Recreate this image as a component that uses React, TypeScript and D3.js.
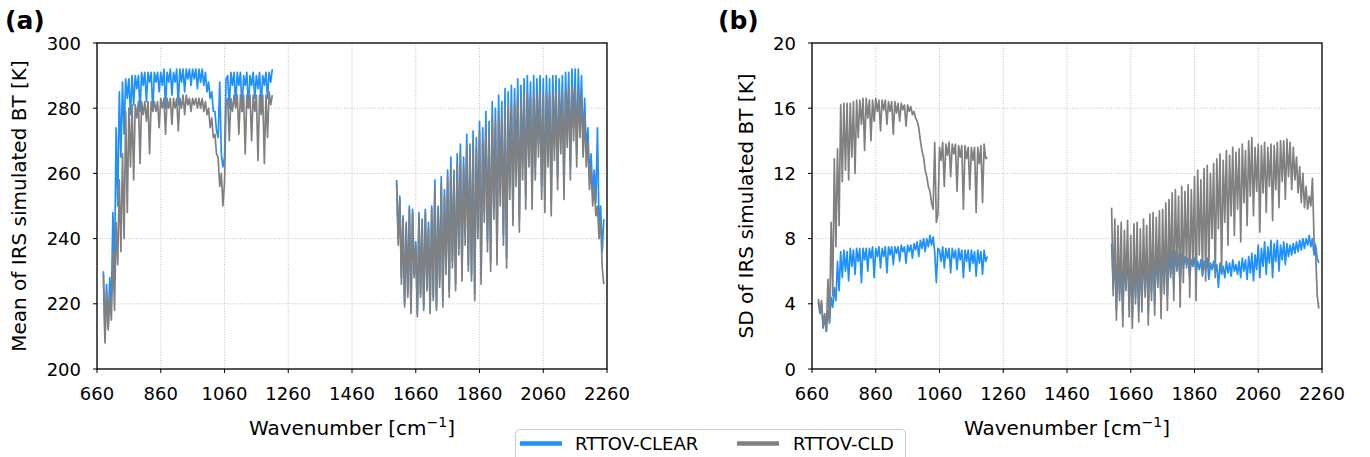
import React from 'react';
import * as d3 from 'd3';

// Channel grid (cm-1): long-wave band 680..1210, mid-wave band 1600..2250, every 5 cm-1
const LW_START = 680;
const MW_START = 1600;
const STEP = 5;

const xTicks = [660, 860, 1060, 1260, 1460, 1660, 1860, 2060, 2260];
const yTicksA = [200, 220, 240, 260, 280, 300];
const yTicksB = [0, 4, 8, 12, 16, 20];

// (a) Mean BT [K]
const aClearLW = [
  230, 210, 226, 213, 228, 220, 248, 230, 274, 250,
  285, 265, 288, 272, 289, 283, 289, 278, 290, 281,
  290, 286, 290, 279, 291, 287, 291, 282, 291, 288,
  291, 279, 291, 288, 291, 285, 291, 287, 292, 280,
  291, 288, 292, 284, 291, 288, 292, 281, 292, 288,
  292, 285, 292, 289, 292, 287, 292, 289, 292, 286,
  292, 288, 292, 287, 291, 285, 288, 283, 285, 279,
  279, 273, 271, 288, 266, 262, 265, 289, 290, 280,
  291, 287, 291, 281, 291, 287, 291, 279, 290, 287,
  291, 280, 290, 287, 291, 283, 290, 286, 291, 281,
  290, 287, 291, 283, 291, 288, 292,
];
const aCloudLW = [
  229, 208, 224, 212, 222, 215, 236, 218, 245, 232,
  258, 236, 266, 240, 279, 248, 280, 262, 281, 258,
  281, 277, 282, 263, 282, 278, 282, 276, 282, 266,
  282, 279, 282, 279, 282, 274, 283, 280, 283, 272,
  283, 280, 283, 275, 283, 280, 283, 273, 283, 280,
  284, 278, 284, 281, 283, 279, 283, 281, 283, 280,
  283, 280, 283, 279, 282, 278, 280, 274, 277, 271,
  272, 266, 265, 256, 260, 250, 257, 282, 283, 270,
  283, 279, 284, 280, 284, 272, 284, 279, 284, 266,
  284, 280, 284, 270, 284, 279, 284, 264, 284, 278,
  284, 263, 284, 271, 285, 281, 284,
];
const aClearMW = [
  258, 240, 253, 228, 247, 220, 245, 223, 250, 218,
  249, 229, 239, 217, 248, 223, 246, 219, 249, 225,
  245, 218, 250, 222, 258, 219, 250, 227, 259, 221,
  255, 231, 261, 224, 265, 233, 261, 226, 266, 237,
  269, 229, 265, 241, 272, 232, 269, 229, 273, 223,
  271, 243, 276, 228, 274, 248, 279, 239, 276, 233,
  282, 249, 280, 235, 284, 254, 282, 241, 286, 234,
  285, 256, 287, 248, 286, 260, 289, 246, 287, 262,
  289, 253, 290, 266, 288, 253, 290, 262, 289, 269,
  290, 256, 289, 252, 290, 266, 289, 251, 290, 268,
  290, 259, 289, 270, 290, 256, 291, 272, 291, 262,
  292, 274, 292, 266, 292, 275, 290, 269, 283, 266,
  274, 259, 266, 254, 261, 251, 274, 244, 250, 236,
  246,
];
const aCloudMW = [
  257, 238, 252, 226, 246, 219, 244, 222, 249, 217,
  248, 228, 238, 216, 247, 222, 245, 218, 248, 224,
  243, 217, 249, 221, 256, 218, 248, 225, 257, 219,
  253, 229, 259, 222, 262, 231, 258, 224, 263, 235,
  266, 227, 262, 238, 269, 230, 266, 227, 270, 221,
  268, 240, 273, 226, 270, 245, 275, 236, 272, 230,
  278, 246, 276, 232, 279, 250, 277, 238, 281, 231,
  280, 252, 282, 244, 281, 256, 284, 242, 282, 258,
  284, 249, 285, 262, 283, 249, 285, 258, 284, 265,
  285, 252, 284, 248, 285, 262, 284, 247, 285, 264,
  285, 255, 284, 266, 285, 252, 286, 268, 286, 258,
  287, 270, 286, 262, 286, 271, 284, 265, 278, 262,
  270, 255, 262, 250, 256, 247, 250, 240, 246, 231,
  226,
];

// (b) SD BT [K]
const bClearLW = [
  4.1, 3.4, 4.0, 2.5, 3.2, 2.3, 3.6, 2.9, 4.4, 3.8,
  5.0, 4.2, 6.6, 4.8, 7.2, 5.6, 7.3, 6.0, 7.2, 5.4,
  7.4, 6.3, 7.3, 5.8, 7.4, 6.6, 7.4, 5.3, 7.4, 6.7,
  7.4, 6.0, 7.4, 6.8, 7.5, 5.6, 7.4, 6.9, 7.5, 6.2,
  7.4, 6.9, 7.5, 5.9, 7.5, 7.0, 7.5, 6.4, 7.5, 7.1,
  7.5, 6.6, 7.6, 7.2, 7.5, 6.5, 7.6, 7.2, 7.6, 6.8,
  7.7, 7.3, 7.8, 6.9, 7.9, 7.4, 8.0, 7.2, 8.0, 7.5,
  8.2, 7.6, 8.1, 7.2, 5.3, 7.4, 7.3, 6.6, 7.5, 6.2,
  7.4, 6.8, 7.4, 5.9, 7.4, 6.8, 7.3, 6.1, 7.4, 6.7,
  7.3, 5.6, 7.3, 6.6, 7.3, 6.0, 7.3, 6.5, 7.2, 5.7,
  7.3, 6.5, 7.2, 5.8, 7.3, 6.6, 6.9,
];
const bCloudLW = [
  4.3, 3.5, 4.2, 2.6, 3.4, 2.3, 5.5, 2.8, 9.0, 4.5,
  12.9, 7.5, 13.5, 8.8, 16.2, 11.5, 16.3, 12.2, 16.3, 11.6,
  16.3, 13.0, 16.4, 12.0, 16.5, 14.2, 16.5, 15.0, 16.6, 13.4,
  16.6, 15.4, 16.5, 14.0, 16.5, 15.2, 16.6, 15.8, 16.5, 14.6,
  16.5, 15.9, 16.5, 15.0, 16.4, 15.8, 16.4, 14.4, 16.4, 15.7,
  16.3, 15.2, 16.3, 15.9, 16.2, 14.9, 16.2, 15.8, 16.1, 15.6,
  15.8, 15.4, 15.2, 14.8, 14.0, 13.4, 13.0, 12.2, 11.8, 11.2,
  10.9, 10.2, 9.8, 13.9, 9.0, 9.5, 13.6, 12.8, 13.9, 11.2,
  13.8, 13.1, 13.9, 11.8, 13.8, 13.2, 13.8, 10.9, 13.7, 13.0,
  13.7, 9.8, 13.7, 12.9, 13.6, 11.0, 13.6, 12.8, 13.6, 9.6,
  13.6, 12.6, 13.7, 10.2, 13.8, 12.9, 13.0,
];
const bClearMW = [
  7.7, 4.9, 7.2, 3.6, 6.8, 4.6, 7.0, 3.2, 6.6, 5.0,
  7.1, 3.8, 6.4, 3.1, 6.9, 4.4, 7.0, 3.5, 6.7, 4.1,
  7.1, 4.8, 6.9, 3.4, 7.2, 4.7, 7.4, 4.0, 7.1, 5.3,
  7.5, 3.9, 7.3, 5.1, 7.6, 4.5, 7.4, 5.8, 7.3, 5.0,
  7.2, 6.1, 7.0, 5.2, 7.1, 6.2, 6.9, 6.4, 6.8, 5.6,
  6.7, 6.3, 6.8, 5.9, 6.6, 6.1, 6.7, 5.7, 6.6, 6.0,
  6.8, 5.5, 6.5, 6.1, 6.6, 5.9, 6.4, 5.0, 6.5, 5.8,
  6.3, 5.6, 6.6, 5.9, 6.5, 5.7, 6.7, 6.0, 6.4, 5.8,
  6.6, 5.6, 6.8, 6.0, 6.7, 5.5, 6.9, 5.9, 7.1, 5.4,
  7.0, 6.1, 7.6, 5.6, 7.4, 6.3, 7.8, 5.8, 7.5, 6.5,
  7.9, 5.6, 7.7, 6.6, 7.9, 6.0, 7.6, 6.7, 7.8, 6.4,
  7.7, 6.9, 7.6, 7.0, 7.7, 7.1, 7.8, 7.2, 7.9, 7.3,
  8.0, 7.4, 8.0, 7.6, 8.2, 7.5, 8.0, 7.0, 7.6, 6.8,
  6.5,
];
const bCloudMW = [
  9.9, 4.5, 9.2, 3.0, 8.8, 4.2, 9.0, 2.6, 8.5, 4.8,
  9.1, 3.2, 8.2, 2.5, 8.9, 4.0, 9.0, 2.9, 8.6, 3.5,
  9.2, 4.4, 8.8, 2.7, 9.5, 4.2, 9.6, 3.3, 9.3, 5.0,
  9.7, 3.1, 9.8, 4.6, 10.2, 3.6, 10.4, 5.6, 10.8, 4.2,
  11.0, 6.0, 10.6, 3.8, 11.2, 5.3, 10.9, 6.2, 11.3, 4.4,
  11.0, 6.5, 11.8, 4.2, 12.2, 7.0, 11.6, 5.8, 12.3, 5.4,
  12.5, 6.1, 12.0, 8.0, 12.6, 5.6, 12.9, 8.6, 13.2, 6.0,
  12.8, 9.0, 13.4, 7.6, 13.1, 9.4, 13.6, 8.2, 13.3, 9.8,
  13.5, 7.8, 13.8, 10.2, 13.4, 8.8, 14.0, 10.6, 14.2, 9.4,
  13.6, 10.9, 13.8, 8.4, 13.7, 10.8, 13.9, 9.6, 13.6, 11.2,
  13.8, 9.1, 13.7, 11.0, 13.9, 9.9, 14.0, 11.5, 14.0, 10.4,
  14.1, 11.8, 13.9, 11.0, 13.6, 11.6, 13.0, 10.8, 12.4, 10.2,
  12.0, 9.9, 11.2, 9.8, 10.6, 10.0, 11.7, 8.0, 7.2, 4.5,
  3.7,
];

const CLEAR = '#1e90ff';
const CLOUD = '#808080';
const FONT = "'DejaVu Sans', sans-serif";
const LINE_W = 1.7;

type PanelProps = {
  x0: number; x1: number; y0: number; y1: number;
  yDomain: [number, number]; yTicks: number[];
  clrLW: number[]; clrMW: number[]; cldLW: number[]; cldMW: number[];
  ylabel: string; ylabelX: number; tag: string; tagX: number;
};

function Panel(p: PanelProps) {
  const x = d3.scaleLinear().domain([660, 2260]).range([p.x0, p.x1]);
  const y = d3.scaleLinear().domain(p.yDomain).range([p.y1, p.y0]);
  const mk = (start: number) =>
    d3.line<number>().x((_, i) => x(start + STEP * i)).y((d) => y(d));
  const lw = mk(LW_START);
  const mw = mk(MW_START);
  const cx = (p.x0 + p.x1) / 2;
  const cy = (p.y0 + p.y1) / 2;
  return (
    <g>
      {xTicks.map((t) => (
        <line key={'gx' + t} x1={x(t)} x2={x(t)} y1={p.y0} y2={p.y1}
          stroke="#b0b0b0" strokeWidth={0.8} strokeDasharray="1,1.6" />
      ))}
      {p.yTicks.map((t) => (
        <line key={'gy' + t} x1={p.x0} x2={p.x1} y1={y(t)} y2={y(t)}
          stroke="#b0b0b0" strokeWidth={0.8} strokeDasharray="1,1.6" />
      ))}
      <path d={lw(p.clrLW) || ''} fill="none" stroke={CLEAR} strokeWidth={LINE_W} strokeLinejoin="round" />
      <path d={mw(p.clrMW) || ''} fill="none" stroke={CLEAR} strokeWidth={LINE_W} strokeLinejoin="round" />
      <path d={lw(p.cldLW) || ''} fill="none" stroke={CLOUD} strokeWidth={LINE_W} strokeLinejoin="round" />
      <path d={mw(p.cldMW) || ''} fill="none" stroke={CLOUD} strokeWidth={LINE_W} strokeLinejoin="round" />
      <rect x={p.x0} y={p.y0} width={p.x1 - p.x0} height={p.y1 - p.y0}
        fill="none" stroke="#000" strokeWidth={1.3} />
      {xTicks.map((t) => (
        <g key={'tx' + t}>
          <line x1={x(t)} x2={x(t)} y1={p.y1} y2={p.y1 + 4} stroke="#000" strokeWidth={1} />
          <text x={x(t)} y={399.5} textAnchor="middle" fontSize={18} fontFamily={FONT} fill="#000">{t}</text>
        </g>
      ))}
      {p.yTicks.map((t) => (
        <g key={'ty' + t}>
          <line x1={p.x0 - 4} x2={p.x0} y1={y(t)} y2={y(t)} stroke="#000" strokeWidth={1} />
          <text x={p.x0 - 16} y={y(t) + 6.5} textAnchor="end" fontSize={18} fontFamily={FONT} fill="#000">{t}</text>
        </g>
      ))}
      <text x={cx} y={435} textAnchor="middle" fontSize={20} fontFamily={FONT} fill="#000">
        Wavenumber [cm<tspan dy={-8} fontSize={14}>−1</tspan><tspan dy={8}>]</tspan>
      </text>
      <text transform={`translate(${p.ylabelX},${cy}) rotate(-90)`} textAnchor="middle"
        fontSize={20} fontFamily={FONT} fill="#000">{p.ylabel}</text>
      <text x={p.tagX} y={29} fontSize={25} fontWeight="bold" fontFamily={FONT} fill="#000">{p.tag}</text>
    </g>
  );
}

export default function App() {
  return (
    <div style={{ position: 'absolute', left: 0, top: 0 }}>
      <svg width={1370} height={457} style={{ display: 'block', background: '#fff' }}>
        <Panel x0={97} x1={607} y0={43} y1={369} yDomain={[200, 300]} yTicks={yTicksA}
          clrLW={aClearLW} clrMW={aClearMW} cldLW={aCloudLW} cldMW={aCloudMW}
          ylabel="Mean of IRS simulated BT [K]" ylabelX={26} tag="(a)" tagX={5} />
        <Panel x0={812} x1={1322} y0={43} y1={369} yDomain={[0, 20]} yTicks={yTicksB}
          clrLW={bClearLW} clrMW={bClearMW} cldLW={bCloudLW} cldMW={bCloudMW}
          ylabel="SD of IRS simulated BT [K]" ylabelX={753} tag="(b)" tagX={718} />
        <g>
          <rect x={515.5} y={429.5} width={390} height={40} rx={4} fill="#fff" fillOpacity={0.8}
            stroke="#cccccc" strokeWidth={1} />
          <line x1={520} x2={562} y1={443.5} y2={443.5} stroke={CLEAR} strokeWidth={4.5} />
          <text x={575} y={450} fontSize={18} fontFamily={FONT} fill="#000">RTTOV-CLEAR</text>
          <line x1={737} x2={779} y1={443.5} y2={443.5} stroke={CLOUD} strokeWidth={4.5} />
          <text x={793} y={450} fontSize={18} fontFamily={FONT} fill="#000">RTTOV-CLD</text>
        </g>
      </svg>
    </div>
  );
}
